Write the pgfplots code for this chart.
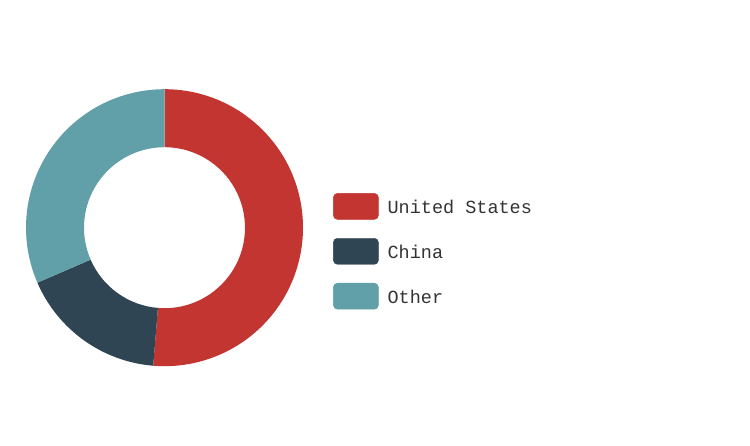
\documentclass[border=0pt]{standalone}
\usepackage{pgfplots}
\pgfplotsset{compat=1.18}
\usepackage{pgfplotstable}
\usepackage{fontspec}
\setmonofont{Liberation Mono}
\definecolor{usred}{HTML}{C23531}
\definecolor{cnblue}{HTML}{2F4554}
\definecolor{otherteal}{HTML}{61A0A8}
\definecolor{legtext}{HTML}{333333}

% share of the total, percent
\pgfplotstableread{
value
51.3
17.2
31.5
}\sharetable

\begin{document}
\begin{tikzpicture}
\pgfplotstablegetelem{0}{value}\of\sharetable \let\vA=\pgfplotsretval
\pgfplotstablegetelem{1}{value}\of\sharetable \let\vB=\pgfplotsretval
\pgfplotstablegetelem{2}{value}\of\sharetable \let\vC=\pgfplotsretval
\pgfmathsetmacro\aA{90-3.6*\vA}
\pgfmathsetmacro\aB{\aA-3.6*\vB}
\pgfmathsetmacro\aC{\aB-3.6*\vC}
\def\cx{164.5}\def\cy{217.3}
\def\ro{138.5pt}\def\ri{80.5pt}
\begin{axis}[
  width=750pt, height=445pt, scale only axis, hide axis,
  xmin=0, xmax=750, ymin=0, ymax=445, clip=false,
  legend cell align=left,
  legend style={draw=none, fill=none, at={(axis cs:333,252)}, anchor=north west,
    inner sep=0pt, row sep=18.5pt, column sep=9pt,
    nodes={inner sep=0pt}, text=legtext,
    font=\ttfamily\fontsize{18.5}{22}\selectfont},
  legend image code/.code={\fill[#1,rounded corners=4pt] (0pt,-11.5pt) rectangle (45pt,14.5pt);},
]
\addlegendimage{usred}\addlegendentry{United States}
\addlegendimage{cnblue}\addlegendentry{China}
\addlegendimage{otherteal}\addlegendentry{Other}

% keep the whole canvas as the picture
\path (rel axis cs:0,0) rectangle (rel axis cs:1,1);

\fill[usred] ([shift={(90:\ro)}]axis cs:\cx,\cy) arc[start angle=90,end angle=\aA,radius=\ro]
  -- ([shift={(\aA:\ri)}]axis cs:\cx,\cy) arc[start angle=\aA,end angle=90,radius=\ri] -- cycle;
\fill[cnblue] ([shift={(\aA:\ro)}]axis cs:\cx,\cy) arc[start angle=\aA,end angle=\aB,radius=\ro]
  -- ([shift={(\aB:\ri)}]axis cs:\cx,\cy) arc[start angle=\aB,end angle=\aA,radius=\ri] -- cycle;
\fill[otherteal] ([shift={(\aB:\ro)}]axis cs:\cx,\cy) arc[start angle=\aB,end angle=\aC,radius=\ro]
  -- ([shift={(\aC:\ri)}]axis cs:\cx,\cy) arc[start angle=\aC,end angle=\aB,radius=\ri] -- cycle;
\end{axis}
\end{tikzpicture}
\end{document}
